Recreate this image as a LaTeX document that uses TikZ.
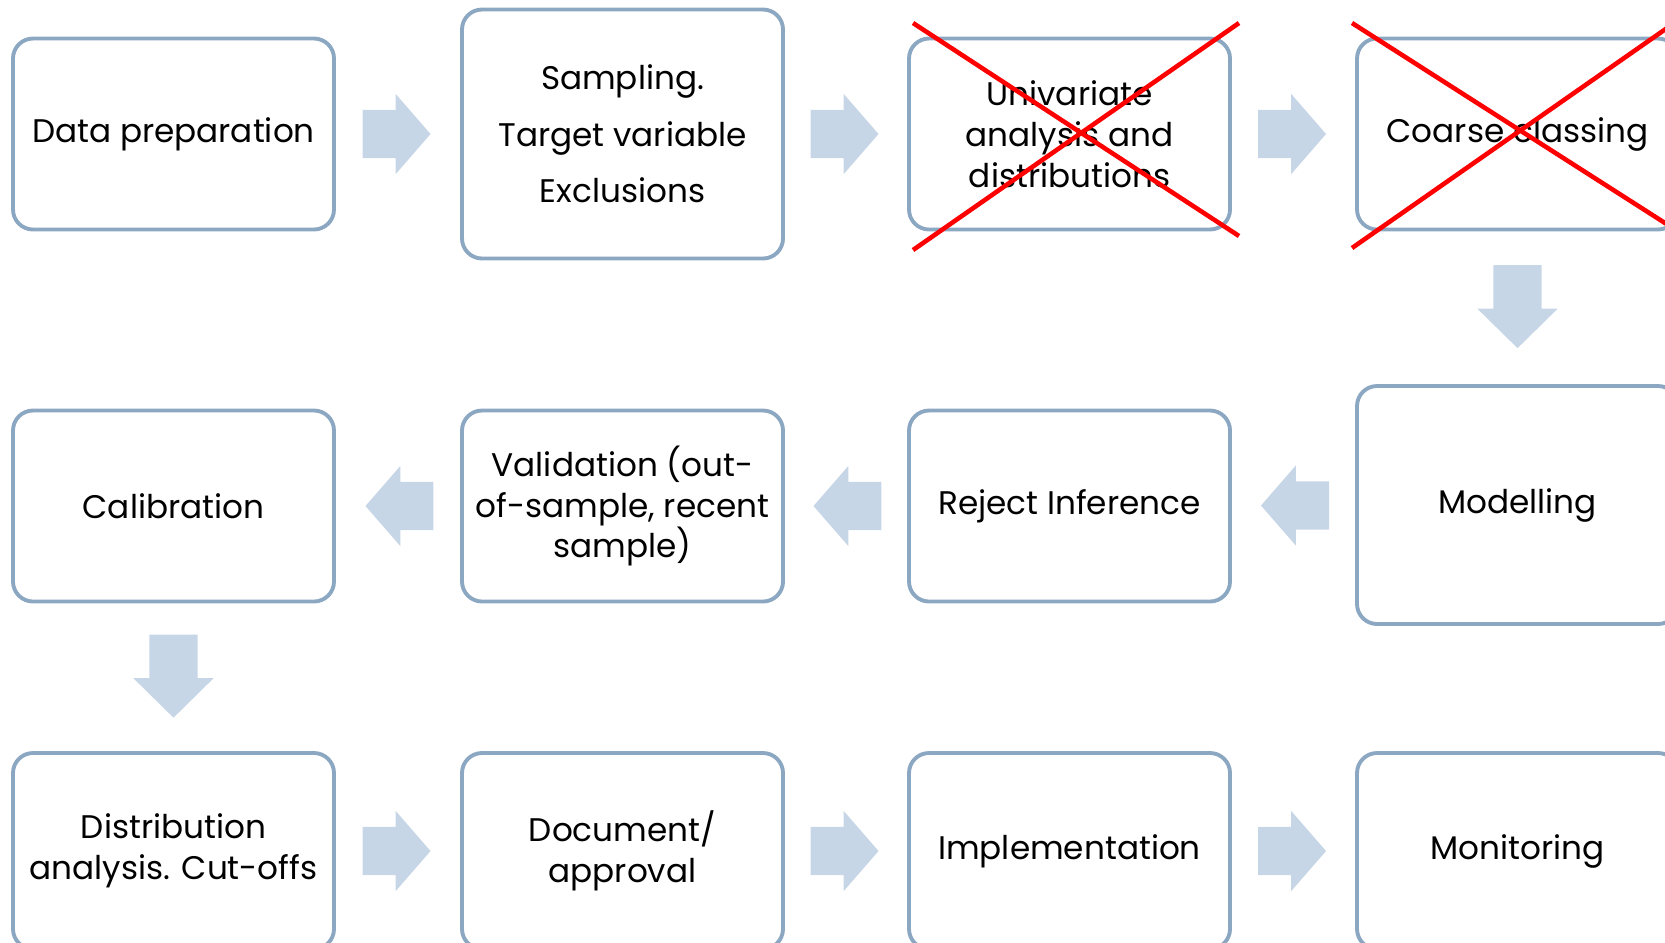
\documentclass[tikz,border=0pt]{standalone}
\usepackage{fontspec}
\setmainfont{Poppins}
\usepackage{xcolor}
\usepackage{tikz}
\usetikzlibrary{arrows.meta,positioning,calc,shapes.arrows}
\definecolor{stageline}{RGB}{139,167,194}
\definecolor{flowfill}{RGB}{199,214,230}

\begin{document}
\begin{tikzpicture}[
  x=0.1mm, y=-0.1mm,
  stage/.style={draw=stageline, line width=1.1pt, rounded corners=2mm, fill=white, minimum width=32.1mm, minimum height=19.1mm, inner xsep=1pt, align=center, font=\fontsize{9.3pt}{11.6pt}\selectfont},
  flow/.style={single arrow, fill=flowfill, draw=none, inner sep=0pt, text height=4.7mm, text depth=0pt, minimum height=6.8mm, single arrow head extend=1.6mm, single arrow tip angle=98},
  flowdown/.style={flow, minimum height=8.3mm, single arrow tip angle=91, rotate=-90},
  cross/.style={draw=red, line width=1.3pt}
]
\useasboundingbox (0,0) rectangle (1665,942);
\clip (0,0) rectangle (1665,942);
\node[stage] (prep) at (173.5,134) {Data preparation};
\node[stage, minimum height=24.9mm] (sampling) at (622.5,134) {Sampling.\\[4.5pt]Target variable\\[4.5pt]Exclusions};
\node[stage] (univar) at (1069.5,134) {Univariate\\analysis and\\distributions};
\node[stage] (coarse) at (1517.5,134) {Coarse classing};
\node[stage, minimum height=23.8mm] (model) at (1517.5,505) {Modelling};
\node[stage] (reject) at (1069.5,506) {Reject Inference};
\node[stage] (valid) at (622.5,506) {Validation (out-\\of-sample, recent\\sample)};
\node[stage] (calib) at (173.5,506) {Calibration};
\node[stage, minimum height=19.6mm] (distr) at (173.5,851) {Distribution\\analysis. Cut-offs};
\node[stage, minimum height=19.6mm] (doc) at (622.5,851) {Document/\\approval};
\node[stage, minimum height=19.6mm] (impl) at (1069.5,851) {Implementation};
\node[stage, minimum height=19.6mm] (monit) at (1517.5,851) {Monitoring};
\node[flow] (f1) at ($(prep.east)!.5!(sampling.west)+(-12,0)$) {};
\node[flow] (f2) at ($(sampling.east)!.5!(univar.west)+(-12,0)$) {};
\node[flow] (f3) at ($(univar.east)!.5!(coarse.west)+(-12,0)$) {};
\node[flowdown] (f4) at ($(coarse.south)!.5!(model.north)+(0,-13)$) {};
\node[flow, rotate=180] (f5) at ($(model.west)!.5!(reject.east)+(12,0)$) {};
\node[flow, rotate=180] (f6) at ($(reject.west)!.5!(valid.east)+(12,0)$) {};
\node[flow, rotate=180] (f7) at ($(valid.west)!.5!(calib.east)+(12,0)$) {};
\node[flowdown] (f8) at ($(calib.south)!.5!(distr.north)+(0,-13)$) {};
\node[flow] (f9) at ($(distr.east)!.5!(doc.west)+(-12,0)$) {};
\node[flow] (f10) at ($(doc.east)!.5!(impl.west)+(-12,0)$) {};
\node[flow] (f11) at ($(impl.east)!.5!(monit.west)+(-12,0)$) {};
\draw[cross] (913,23) -- (1239,236);
\draw[cross] (913,250) -- (1239,23);
\draw[cross] (1352,23) -- (1690,239);
\draw[cross] (1352,248) -- (1690,12);
\end{tikzpicture}
\end{document}
